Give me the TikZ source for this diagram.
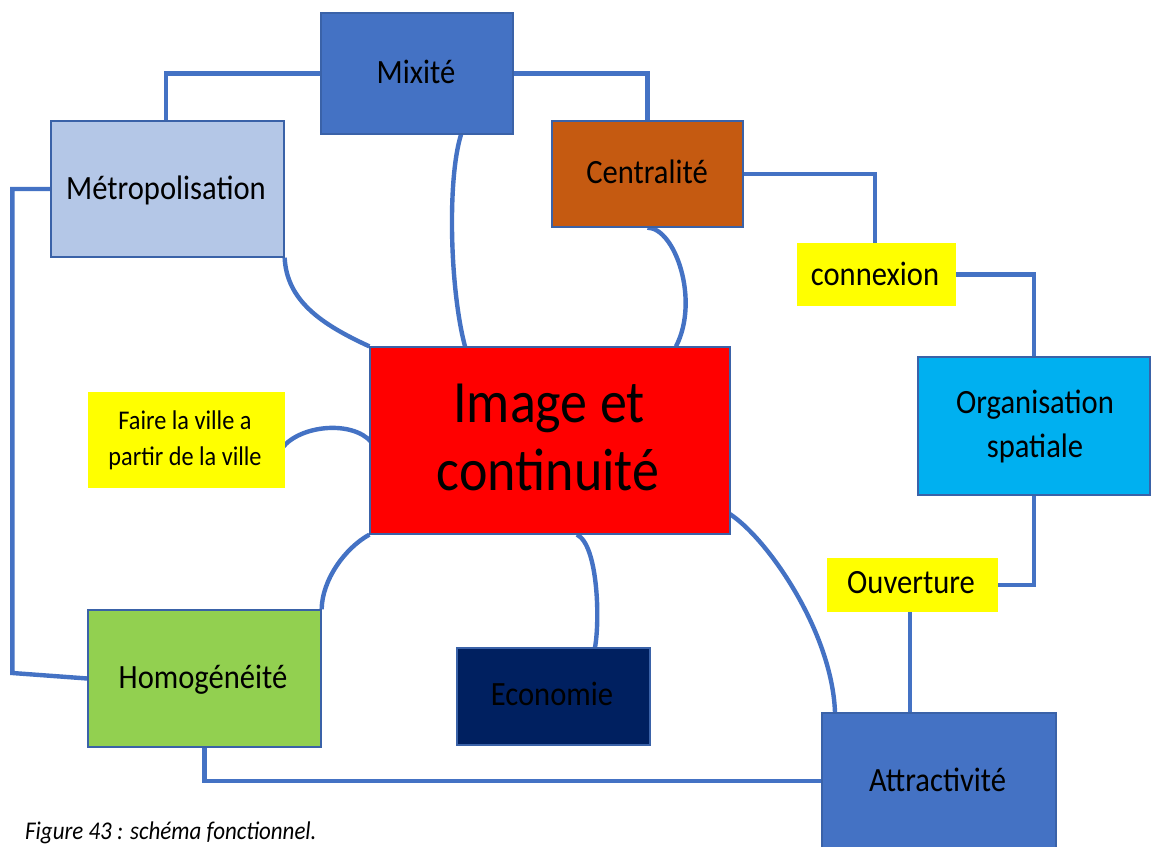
\documentclass[tikz,border=0pt]{standalone}
\usepackage{fontspec}
\setmainfont{Carlito}[FakeStretch=0.9]
\usetikzlibrary{backgrounds}
\definecolor{lineblue}{HTML}{4472C4}
\definecolor{bordc}{HTML}{3A62A8}
\definecolor{mixc}{HTML}{4472C4}
\definecolor{metroc}{HTML}{B4C7E7}
\definecolor{centc}{HTML}{C55A11}
\definecolor{yelc}{HTML}{FFFF00}
\definecolor{redc}{HTML}{FF0000}
\definecolor{orgc}{HTML}{00B0F0}
\definecolor{homoc}{HTML}{92D050}
\definecolor{ecoc}{HTML}{002060}
\begin{document}
\begin{tikzpicture}[x=1pt,y=-1pt,
  box/.style={draw=bordc, line width=1.3pt, inner sep=0pt, rectangle},
  ybox/.style={fill=yelc, inner sep=0pt, rectangle},
  lbl/.style={anchor=base, inner sep=0pt, font=\fontsize{34}{40}\selectfont},
  slbl/.style={anchor=base, inner sep=0pt, font=\fontsize{27}{32}\selectfont},
  blbl/.style={anchor=base, inner sep=0pt, font=\fontsize{60}{68}\selectfont},
  conn/.style={draw=lineblue, line width=4.4pt}]
\clip (0,0) rectangle (1151,846);
% boxes
\node[box, fill=mixc, minimum width=192pt, minimum height=121pt] (mix) at (417,73.5) {};
\node[box, fill=metroc, minimum width=233pt, minimum height=136pt] (metro) at (167.5,189) {};
\node[box, fill=centc, minimum width=191pt, minimum height=106pt] (cent) at (647.5,174) {};
\node[ybox, minimum width=159pt, minimum height=63pt] (conx) at (876.5,274.5) {};
\node[box, fill=redc, minimum width=360pt, minimum height=187pt] (red) at (550,440.5) {};
\node[ybox, minimum width=197pt, minimum height=96pt] (faire) at (186.5,440) {};
\node[box, fill=orgc, minimum width=232pt, minimum height=138pt] (org) at (1034,426) {};
\node[ybox, minimum width=171pt, minimum height=54pt] (ouv) at (912.5,585) {};
\node[box, fill=homoc, minimum width=233pt, minimum height=137pt] (homo) at (204.5,678.5) {};
\node[box, fill=ecoc, minimum width=193pt, minimum height=97pt] (eco) at (553.5,696.5) {};
\node[box, fill=mixc, minimum width=234pt, minimum height=136pt] (attr) at (939,781) {};
% labels
\node[lbl] (tmix) at (416,83) {Mixité};
\node[lbl] (tmetro) at (166,199) {Métropolisation};
\node[lbl] (tcent) at (647,183) {Centralité};
\node[lbl] (tconx) at (875,285) {connexion};
\node[lbl] (torg1) at (1035,413) {Organisation};
\node[lbl] (torg2) at (1035,457) {spatiale};
\node[lbl] (touv) at (911,593) {Ouverture};
\node[slbl] (tfaire1) at (185,429) {Faire la ville a};
\node[slbl] (tfaire2) at (185,465) {partir de la ville};
\node[blbl] (tred1) at (549,422) {Image et};
\node[blbl] (tred2) at (548,490) {continuité};
\node[lbl] (thomo) at (203,688) {Homogénéité};
\node[lbl] (teco) at (552,705) {Economie};
\node[lbl] (tattr) at (937.5,791) {Attractivité};
\node[anchor=base west, inner sep=0pt, font=\fontsize{25.5}{30}\selectfont\itshape] (cap) at (25,839) {Figure 43 : schéma fonctionnel.};
% connectors
\begin{scope}[on background layer]
\fill[white] (0,0) rectangle (1151,846);
\draw[conn] (mix.west) -| ([xshift=-1.5pt]metro.north);
\draw[conn] (mix.east) -| (cent.north);
\draw[conn] (cent.east) -| ([xshift=-1.5pt]conx.north);
\draw[conn] (conx.east) -| (org.north);
\draw[conn] (org.south) |- (ouv.east);
\draw[conn] ([xshift=-2.5pt]ouv.south) -- ([xshift=-2.5pt]ouv.south |- attr.north);
\draw[conn] (metro.west) -- ++(-38,0) -- ++(0,484) -- (homo.west);
\draw[conn] (homo.south) |- (attr.west);
\draw[conn] (metro.south east) .. controls +(2,43) and +(-48,-22) .. (red.north west);
\draw[conn] ([xshift=44pt]mix.south) .. controls (447,180) and (450,290) .. ([xshift=-85pt]red.north);
\draw[conn] (cent.south) .. controls (675,228) and (700,300) .. ([xshift=126pt]red.north);
\draw[conn] ([xshift=-3pt,yshift=-8pt]faire.east) .. controls (300,425) and (352,420) .. ([xshift=2pt,yshift=-1.5pt]red.west);
\draw[conn] (red.south west) .. controls (345,548) and (322,580) .. (homo.north east);
\draw[conn] ([xshift=27pt]red.south) .. controls (598,545) and (600,620) .. ([xshift=41.5pt]eco.north);
\draw[conn] ([xshift=-3pt,yshift=22pt]red.south east) .. controls (765,535) and (832,630) .. ([xshift=-104pt]attr.north);
\end{scope}
\end{tikzpicture}
\end{document}
